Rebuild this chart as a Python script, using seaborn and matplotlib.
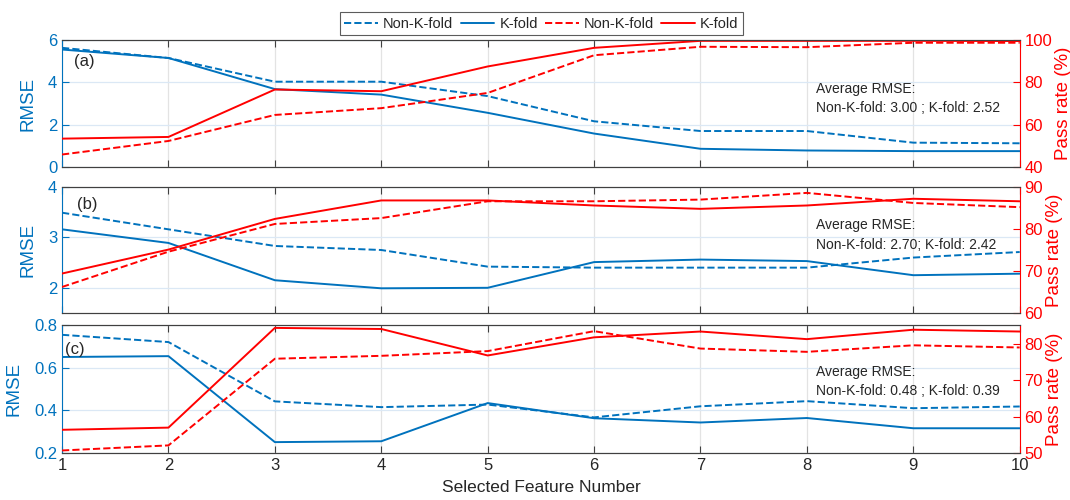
import pandas as pd
import matplotlib
matplotlib.use("Agg")
import matplotlib.pyplot as plt
from matplotlib.lines import Line2D
import seaborn as sns

# feature counts on the x axis
features = [1, 2, 3, 4, 5, 6, 7, 8, 9, 10]

# (a)
rmse_nonk_a = [5.63, 5.15, 4.03, 4.03, 3.35, 2.16, 1.70, 1.70, 1.15, 1.12]
rmse_k_a = [5.55, 5.15, 3.68, 3.42, 2.56, 1.58, 0.86, 0.78, 0.75, 0.75]
pass_nonk_a = [45.9, 52.3, 64.6, 67.8, 75.0, 92.8, 96.8, 96.6, 98.7, 98.7]
pass_k_a = [53.4, 54.2, 76.6, 75.8, 87.5, 96.3, 99.6, 99.6, 99.6, 99.5]

# (b)
rmse_nonk_b = [3.49, 3.16, 2.83, 2.75, 2.42, 2.40, 2.40, 2.40, 2.60, 2.71]
rmse_k_b = [3.16, 2.89, 2.15, 1.99, 2.00, 2.51, 2.56, 2.53, 2.25, 2.28]
pass_nonk_b = [66.2, 74.6, 81.2, 82.6, 86.6, 86.6, 87.0, 88.6, 86.2, 85.2]
pass_k_b = [69.4, 75.1, 82.4, 86.8, 86.8, 85.6, 84.8, 85.6, 87.2, 86.6]

# (c)
rmse_nonk_c = [0.754, 0.720, 0.442, 0.415, 0.427, 0.367, 0.419, 0.443, 0.410, 0.418]
rmse_k_c = [0.650, 0.654, 0.251, 0.255, 0.434, 0.363, 0.343, 0.364, 0.316, 0.316]
pass_nonk_c = [50.7, 52.1, 76.0, 76.8, 78.1, 83.6, 78.8, 77.9, 79.7, 79.1]
pass_k_c = [56.4, 57.0, 84.5, 84.2, 76.9, 81.9, 83.5, 81.4, 84.0, 83.5]

panel_names = ["(a)", "(b)", "(c)"]
avg_texts = ["Average RMSE:\nNon-K-fold: 3.00 ; K-fold: 2.52",
             "Average RMSE:\nNon-K-fold: 2.70; K-fold: 2.42",
             "Average RMSE:\nNon-K-fold: 0.48 ; K-fold: 0.39"]

BLUE = "#0072BD"
RED = "#FF0000"
GRAY = "#404040"

sns.set_style("white")
plt.rcParams['font.family'] = ['Liberation Sans', 'DejaVu Sans']

fig = plt.figure(figsize=(10.7, 5), dpi=100)

panels = [
    dict(rect=[0.058, 0.666, 0.895, 0.254], nonk=rmse_nonk_a, k=rmse_k_a, pnonk=pass_nonk_a, pk=pass_k_a,
         ylim=(0, 6), yticks=[0, 2, 4, 6], plim=(40, 100), pticks=[40, 60, 80, 100],
         lab=(0.012, 0.83), txt=(0.787, 0.54)),
    dict(rect=[0.058, 0.374, 0.895, 0.252], nonk=rmse_nonk_b, k=rmse_k_b, pnonk=pass_nonk_b, pk=pass_k_b,
         ylim=(1.5, 4), yticks=[2, 3, 4], plim=(60, 90), pticks=[60, 70, 80, 90],
         lab=(0.016, 0.86), txt=(0.787, 0.62)),
    dict(rect=[0.058, 0.094, 0.895, 0.256], nonk=rmse_nonk_c, k=rmse_k_c, pnonk=pass_nonk_c, pk=pass_k_c,
         ylim=(0.2, 0.8), yticks=[0.2, 0.4, 0.6, 0.8], plim=(50, 85.3), pticks=[50, 60, 70, 80],
         lab=(0.003, 0.81), txt=(0.787, 0.56)),
]

for i, p in enumerate(panels):
    ax = fig.add_axes(p["rect"])
    ax2 = ax.twinx()

    df = pd.DataFrame({"feature": features, "nonk": p["nonk"], "k": p["k"],
                       "pnonk": p["pnonk"], "pk": p["pk"]})
    sns.lineplot(data=df, x="feature", y="nonk", ax=ax, color=BLUE, linestyle="--", lw=1.4)
    sns.lineplot(data=df, x="feature", y="k", ax=ax, color=BLUE, lw=1.4)
    sns.lineplot(data=df, x="feature", y="pnonk", ax=ax2, color=RED, linestyle="--", lw=1.4)
    sns.lineplot(data=df, x="feature", y="pk", ax=ax2, color=RED, lw=1.4)

    ax.set_xlim(1, 10)
    ax.set_xticks(features)
    ax.set_ylim(*p["ylim"])
    ax.set_yticks(p["yticks"])
    ax2.set_ylim(*p["plim"])
    ax2.set_yticks(p["pticks"])

    ax.grid(axis="y", color="#dbe8f5", lw=0.9)
    ax.grid(axis="x", color="#e3e3e3", lw=0.9)
    ax.set_axisbelow(True)

    for a in (ax, ax2):
        a.spines["top"].set_color(GRAY)
        a.spines["bottom"].set_color(GRAY)
    ax.spines["left"].set_color(BLUE)
    ax.spines["right"].set_visible(False)
    ax2.spines["left"].set_visible(False)
    ax2.spines["right"].set_color(RED)

    ax.tick_params(axis="x", direction="in", top=True, bottom=True, length=5,
                   color=GRAY, labelcolor="#262626", labelsize=12)
    ax.tick_params(axis="y", direction="in", length=5, colors=BLUE, labelsize=12)
    ax2.tick_params(axis="y", direction="in", length=5, colors=RED, labelsize=12)

    ax.set_ylabel("RMSE", color=BLUE, fontsize=13.5, labelpad=8)
    ax2.set_ylabel("Pass rate (%)", color=RED, fontsize=13.5, labelpad=2)
    if i < 2:
        ax.tick_params(labelbottom=False)
        ax.set_xlabel("")
    else:
        ax.set_xlabel("Selected Feature Number", fontsize=12.5, color="#262626", labelpad=5)
    ax2.set_xlabel("")

    ax.text(p["lab"][0], p["lab"][1], panel_names[i], transform=ax.transAxes,
            fontsize=12, color="#262626", ha="left", va="center")
    ax.text(p["txt"][0], p["txt"][1], avg_texts[i], transform=ax.transAxes,
            fontsize=10, color="#262626", ha="left", va="center", linespacing=1.5)

handles = [Line2D([], [], color=BLUE, ls="--", lw=1.4), Line2D([], [], color=BLUE, lw=1.4),
           Line2D([], [], color=RED, ls="--", lw=1.4), Line2D([], [], color=RED, lw=1.4)]
labels = ["Non-K-fold", "K-fold", "Non-K-fold", "K-fold"]
leg = fig.legend(handles, labels, loc="upper center", bbox_to_anchor=(0.506, 0.99), ncol=4,
                 fontsize=10.5, frameon=True, fancybox=False, edgecolor="#333333",
                 handlelength=2.3, handletextpad=0.35, columnspacing=0.5, borderpad=0.3)
leg.get_frame().set_linewidth(0.8)

fig.savefig("out.png", dpi=100)
